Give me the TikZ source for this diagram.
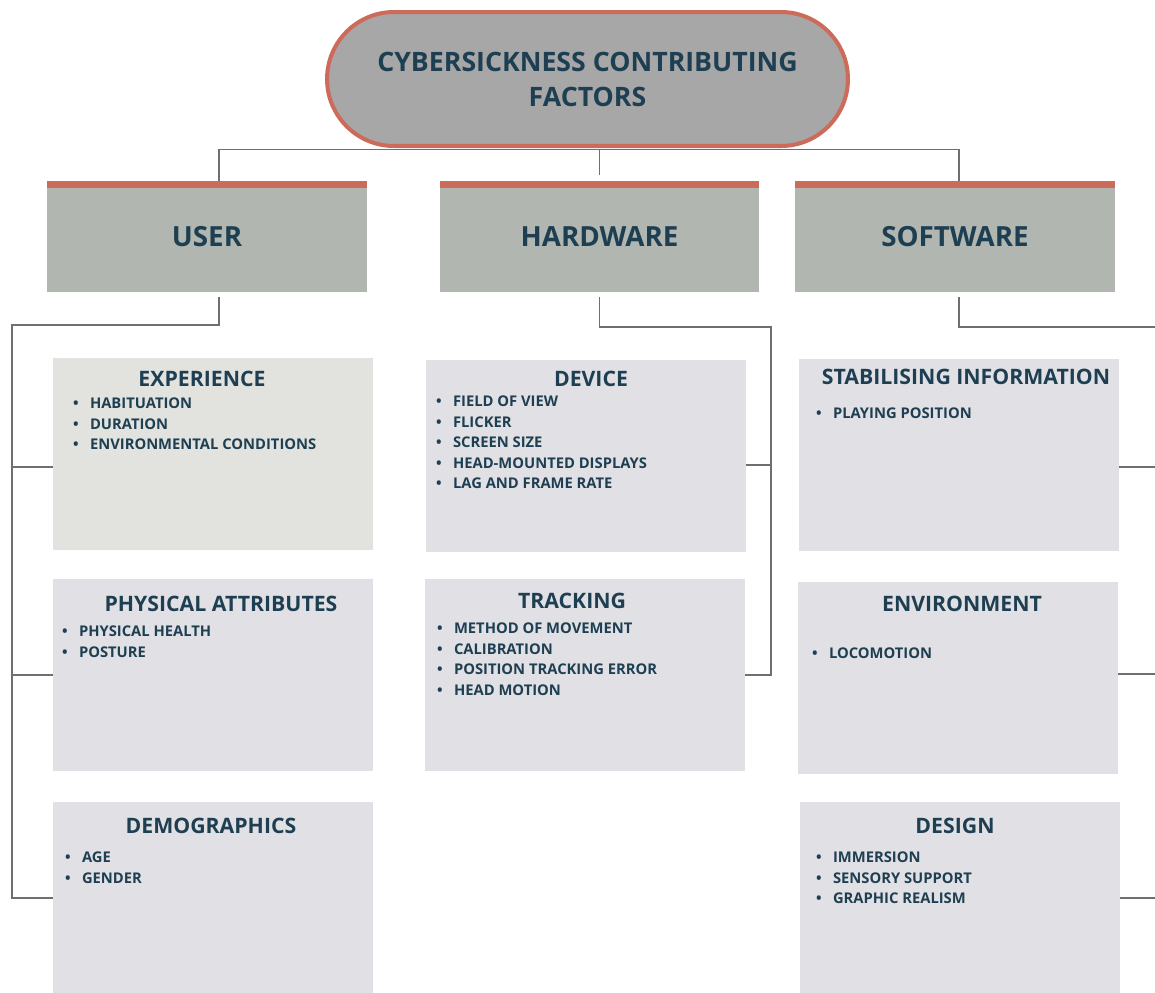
\documentclass[tikz,border=0pt]{standalone}
\usepackage{fontspec}
\setmainfont{Open Sans}
\usepackage{xcolor}
\usepackage{tikz}
\usetikzlibrary{positioning, calc}

\definecolor{coral}{HTML}{CD6B5B}
\definecolor{inkteal}{HTML}{1E3F52}
\definecolor{pillgray}{HTML}{A7A7A7}
\definecolor{headgray}{HTML}{B1B6B0}
\definecolor{boxgray}{HTML}{E1E1E5}
\definecolor{boxwarm}{HTML}{E2E2DF}
\definecolor{linegray}{HTML}{6F6F6F}

\newcommand{\itembullet}{\makebox[0.34cm][l]{\textbullet}}

\begin{document}
\begin{tikzpicture}[
        x=0.02cm, y=-0.02cm,
        % Style for the rounded title at the top
        topnode/.style={
            draw=coral,
            line width=2.3pt,
            fill=pillgray,
            rounded corners=1.34cm,
            minimum width=10.42cm,
            minimum height=2.68cm,
            align=center,
            text=inkteal,
            font=\fontsize{15.2}{19.9}\selectfont\bfseries
        },
        % Style for the three category headers (coral band on top)
        headnode/.style={
            fill=headgray,
            minimum width=6.4cm,
            minimum height=2.22cm,
            text=inkteal,
            font=\fontsize{15.8}{18}\selectfont\bfseries,
            path picture={
                \fill[coral] (path picture bounding box.north west)
                    rectangle ([yshift=-0.14cm]path picture bounding box.north east);
            }
        },
        % Style for the factor boxes
        subbox/.style={
            fill=boxgray,
            minimum width=6.4cm,
            minimum height=3.84cm,
            inner sep=0pt
        },
        % Style for the heading inside a factor box
        subtitle/.style={
            text=inkteal,
            inner sep=0pt,
            font=\fontsize{12.1}{14}\selectfont\bfseries
        },
        % Style for the bullet lists
        itemlist/.style={
            anchor=north west,
            align=left,
            text=inkteal,
            inner sep=0pt,
            font=\fontsize{8.4}{11.7}\selectfont\bfseries
        },
        % Style for the connectors
        link/.style={
            draw=linegray,
            line width=0.7pt
        }
    ]
    \useasboundingbox (0,0) rectangle (1155,992);

    % ==========================================
    % TITLE AND CATEGORIES
    % ==========================================
    \node[topnode] (title) at (587.5,79) {CYBERSICKNESS CONTRIBUTING\\FACTORS};

    \node[headnode] (user) at (207,236.5) {USER};
    \node[headnode] (hard) at (599.5,236.5) {HARDWARE};
    \node[headnode] (soft) at (955,236.5) {SOFTWARE};

    % ==========================================
    % FACTOR BOXES
    % ==========================================
    % user column
    \node[subbox, fill=boxwarm] (exp) at (213,454) {};
    \node[subbox] (phys) at (213,675) {};
    \node[subbox] (demo) at (213,898) {};

    % hardware column
    \node[subbox] (dev) at (586,456) {};
    \node[subbox] (trk) at (585,675) {};

    % software column
    \node[subbox] (stab) at (959,455) {};
    \node[subbox] (env) at (958,678) {};
    \node[subbox] (des) at (960,898) {};

    % headings
    \node[subtitle] (exp-t) at ($(exp.north)+(-11,21)$) {EXPERIENCE};
    \node[subtitle] (phys-t) at ($(phys.north)+(8,25)$) {PHYSICAL ATTRIBUTES};
    \node[subtitle] (demo-t) at ($(demo.north)+(-2,24)$) {DEMOGRAPHICS};
    \node[subtitle] (dev-t) at ($(dev.north)+(5,19)$) {DEVICE};
    \node[subtitle] (trk-t) at ($(trk.north)+(-13,22)$) {TRACKING};
    \node[subtitle] (stab-t) at ($(stab.north)+(7,18)$) {STABILISING INFORMATION};
    \node[subtitle] (env-t) at ($(env.north)+(4,22)$) {ENVIRONMENT};
    \node[subtitle] (des-t) at ($(des.north)+(-5,24)$) {DESIGN};

    % bullet lists
    \node[itemlist] (exp-l) at ($(exp.north west)+(20,40)$)
        {\itembullet HABITUATION\\\itembullet DURATION\\\itembullet ENVIRONMENTAL CONDITIONS};
    \node[itemlist] (phys-l) at ($(phys.north west)+(9,47)$)
        {\itembullet PHYSICAL HEALTH\\\itembullet POSTURE};
    \node[itemlist] (demo-l) at ($(demo.north west)+(12,50)$)
        {\itembullet AGE\\\itembullet GENDER};
    \node[itemlist] (dev-l) at ($(dev.north west)+(10,36)$)
        {\itembullet FIELD OF VIEW\\\itembullet FLICKER\\\itembullet SCREEN SIZE\\
         \itembullet HEAD-MOUNTED DISPLAYS\\\itembullet LAG AND FRAME RATE};
    \node[itemlist] (trk-l) at ($(trk.north west)+(12,44)$)
        {\itembullet METHOD OF MOVEMENT\\\itembullet CALIBRATION\\
         \itembullet POSITION TRACKING ERROR\\\itembullet HEAD MOTION};
    \node[itemlist] (stab-l) at ($(stab.north west)+(17,49)$)
        {\itembullet PLAYING POSITION};
    \node[itemlist] (env-l) at ($(env.north west)+(14,66)$)
        {\itembullet LOCOMOTION};
    \node[itemlist] (des-l) at ($(des.north west)+(16,50)$)
        {\itembullet IMMERSION\\\itembullet SENSORY SUPPORT\\\itembullet GRAPHIC REALISM};

    % ==========================================
    % CONNECTORS
    % ==========================================
    \coordinate (bus) at ($(hard.north)+(0,-31)$);
    \draw[link] ([xshift=0.24cm]user.north) |- (bus) -| ([xshift=0.08cm]soft.north);
    \draw[link] (bus) -- ([yshift=0.12cm]hard.north);

    % user branch
    \coordinate (ubus) at (12,325);
    \coordinate (exp-in) at ([yshift=-0.26cm]exp.west);
    \draw[link] ([xshift=0.24cm,yshift=-0.1cm]user.south) |- (ubus) |- (demo.west);
    \draw[link] (exp-in) -- (exp-in -| ubus);
    \draw[link] (phys.west) -- (phys.west -| ubus);

    % hardware branch
    \coordinate (hbus) at (771,327);
    \coordinate (dev-in) at ([yshift=-0.18cm]dev.east);
    \draw[link] ([yshift=-0.1cm]hard.south) |- (hbus) |- (trk.east);
    \draw[link] (dev-in) -- (dev-in -| hbus);

    % software branch
    \coordinate (sbus) at (1155,327);
    \coordinate (stab-in) at ([yshift=-0.24cm]stab.east);
    \coordinate (env-in) at ([yshift=0.08cm]env.east);
    \draw[link] ([xshift=0.08cm,yshift=-0.1cm]soft.south) |- (sbus);
    \draw[link] (stab-in) -- (stab-in -| sbus);
    \draw[link] (env-in) -- (env-in -| sbus);
    \draw[link] (des.east) -- (des.east -| sbus);
\end{tikzpicture}
\end{document}
